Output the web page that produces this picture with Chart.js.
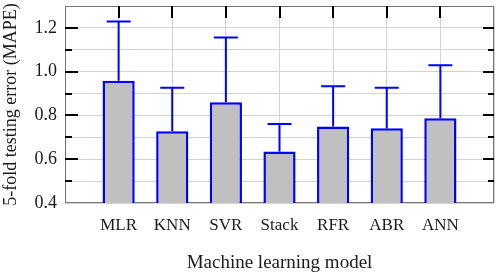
<!DOCTYPE html>
<html>
<head>
<meta charset="utf-8">
<script src="https://cdn.jsdelivr.net/npm/chart.js@4"></script>
<style>
  html, body { margin: 0; padding: 0; background: #fff; }
  .chart-container { width: 498px; height: 275px; }
</style>
</head>
<body>
<div class="chart-container"><canvas id="chart" width="498" height="275"></canvas></div>
<script>
// models and 5-fold MAPE (bar = mean, whisker = upper end)
const models = ['MLR', 'KNN', 'SVR', 'Stack', 'RFR', 'ABR', 'ANN'];
const mape = [0.958, 0.728, 0.860, 0.635, 0.749, 0.741, 0.787];
const mapeUpper = [1.229, 0.927, 1.156, 0.761, 0.933, 0.927, 1.029];

const FONT = 'Liberation Serif';
const TEXT = '#1a1a1a';

/*frame, grid ticks and error whiskers*/
const decorations = {
  id: 'decorations',
  beforeDatasetsDraw(chart) {
    const { ctx, chartArea: a } = chart;
    ctx.save();
    ctx.strokeStyle = '#777';
    ctx.lineWidth = 1;
    ctx.strokeRect(a.left + 0.5, a.top + 0.5, a.right - a.left - 1, a.bottom - a.top - 1);
    ctx.restore();
  },
  afterDatasetsDraw(chart) {
    const { ctx, chartArea: a, scales } = chart;
    const meta = chart.getDatasetMeta(0);
    ctx.save();
    ctx.strokeStyle = '#0000ff';
    ctx.lineWidth = 2;
    meta.data.forEach((bar, i) => {
      const yTop = scales.y.getPixelForValue(mapeUpper[i]);
      ctx.beginPath();
      ctx.moveTo(bar.x, bar.y);
      ctx.lineTo(bar.x, yTop);
      ctx.moveTo(bar.x - 12, yTop);
      ctx.lineTo(bar.x + 12, yTop);
      ctx.stroke();
    });

    // tick marks pointing inwards
    ctx.strokeStyle = '#000';
    ctx.lineWidth = 2;
    scales.y.ticks.forEach(t => {
      const y = Math.round(scales.y.getPixelForValue(t.value));
      if (y <= a.top + 1 || y >= a.bottom - 1) return;
      const major = Math.round(t.value * 10) % 2 === 0;
      ctx.beginPath();
      ctx.moveTo(a.left, y);
      ctx.lineTo(a.left + (major ? 13 : 7), y);
      ctx.moveTo(a.right, y);
      ctx.lineTo(a.right - (major ? 11 : 6), y);
      ctx.stroke();
    });
    models.forEach((m, i) => {
      const x = Math.round(scales.x.getPixelForValue(i + 1));
      ctx.beginPath();
      ctx.moveTo(x, a.top);
      ctx.lineTo(x, a.top + 12);
      ctx.stroke();
    });
    ctx.restore();
  }
};

document.addEventListener('DOMContentLoaded', function() {
  new Chart(document.getElementById('chart'), {
    type: 'bar',
    data: {
      datasets: [{
        data: mape.map((v, i) => ({ x: i + 1, y: v })),
        backgroundColor: '#c0c0c0',
        borderColor: '#0000ff',
        borderWidth: 2.5,
        borderSkipped: false,
        barPercentage: 0.6,
        categoryPercentage: 1
      }]
    },
    options: {
      responsive: false,
      animation: false,
      layout: { padding: { top: 6, right: 4, left: 0, bottom: 0 } },
      plugins: { legend: { display: false }, tooltip: { enabled: false } },
      scales: {
        x: {
          type: 'linear',
          min: 0,
          max: 8,
          offset: false,
          afterFit: s => { s.height = 72; s.paddingLeft = 0; s.paddingRight = 0; },
          grid: { color: '#d3d3d3', drawTicks: false, offset: false },
          border: { display: false },
          ticks: {
            stepSize: 1,
            padding: 12,
            autoSkip: false,
            maxRotation: 0,
            minRotation: 0,
            color: TEXT,
            font: { family: FONT, size: 17 },
            callback: v => models[v - 1] || ''
          },
          title: {
            display: true,
            text: 'Machine learning model',
            color: TEXT,
            font: { family: FONT, size: 19 },
            padding: { top: 0, bottom: 1 }
          }
        },
        y: {
          min: 0.4,
          max: 1.3,
          afterFit: s => { s.width = 65; s.paddingTop = 0; s.paddingBottom = 0; },
          grid: { color: '#d3d3d3', drawTicks: false },
          border: { display: false },
          ticks: {
            stepSize: 0.1,
            padding: 8,
            autoSkip: false,
            color: TEXT,
            font: { family: FONT, size: 18 },
            callback: v => {
              const n = Math.round(v * 10);
              return (n % 2 === 0 && n < 13) ? (n / 10).toFixed(1) : '';
            }
          },
          title: {
            display: true,
            text: '5-fold testing error (MAPE)',
            color: TEXT,
            font: { family: FONT, size: 18 },
            padding: { top: 0, bottom: 0 }
          }
        }
      }
    },
    plugins: [decorations]
  });
});
</script>
</body>
</html>
